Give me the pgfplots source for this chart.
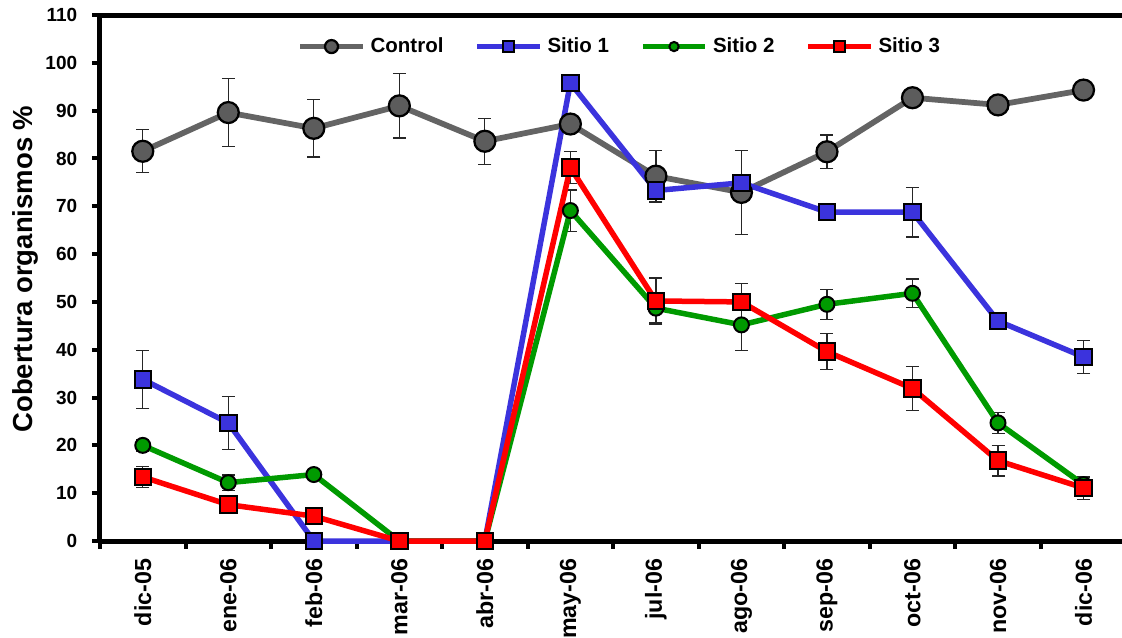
\documentclass[border=0pt]{standalone}
\usepackage{fontspec}
\setmainfont{Liberation Sans}
\usepackage{pgfplots}
\usepackage{pgfplotstable}
\pgfplotsset{compat=1.18}

\definecolor{ctrlline}{HTML}{646464}
\definecolor{ctrlfill}{HTML}{5C5C5C}
\definecolor{s1blue}{HTML}{3B33DD}
\definecolor{s2green}{HTML}{009A00}
\definecolor{s3red}{HTML}{FF0000}

% x: 0 dic-05 ... 11 dic-06 ; y: mean cover (%) ; e: error
\pgfplotstableread{
x y e
0 81.5 4.5
1 89.6 7.1
2 86.3 6.0
3 91.0 6.7
4 83.6 4.8
5 87.2 1.0
6 76.3 5.3
7 72.9 8.8
8 81.4 3.5
9 92.7 1.0
10 91.2 1.0
11 94.3 1.0
}\control

\pgfplotstableread{
x y e
0 33.8 6.1
1 24.7 5.5
2 0 0
3 0 0
4 0 0
5 95.8 1.0
6 73.3 2.4
7 74.9 1.0
8 68.8 1.0
9 68.8 5.2
10 46.0 1.6
11 38.5 3.4
}\sitioA

\pgfplotstableread{
x y e
0 20.0 1.2
1 12.2 1.6
2 13.9 1.0
3 0 0
4 0 0
5 69.1 4.3
6 48.7 3.0
7 45.2 5.4
8 49.5 3.1
9 51.8 3.0
10 24.7 2.2
11 11.8 1.5
}\sitioB

\pgfplotstableread{
x y e
0 13.4 2.2
1 7.6 1.7
2 5.2 1.0
3 0 0
4 0 0
5 78.1 3.3
6 50.2 4.8
7 50.0 3.8
8 39.6 3.8
9 31.9 4.6
10 16.8 3.2
11 11.1 2.4
}\sitioC

\pgfplotsset{
  errs/.style={forget plot, draw=none, mark=none,
    error bars/.cd, y dir=both, y explicit,
    error bar style={draw=black!85, line width=0.5pt},
    error mark=|,
    error mark options={draw=black!85, line width=0.5pt, mark size=2.6pt}},
}

\begin{document}
\begin{tikzpicture}
\begin{axis}[
  scale only axis,
  width=408.8pt, height=210.4pt,
  xmin=-0.5, xmax=11.45,
  ymin=0, ymax=110,
  clip=false,
  axis lines*=left,
  axis line style={-, line width=2pt},
  tick align=outside,
  tick style={black, line width=1.6pt},
  major tick length=3pt,
  ytick={0,10,...,110},
  xtick={-0.5,0.5,...,10.5},
  xticklabels={},
  xticklabel shift=3.6pt,
  yticklabel shift=2.6pt,
  extra x ticks={0,...,11},
  extra x tick labels={dic-05,ene-06,feb-06,mar-06,abr-06,may-06,jul-06,ago-06,sep-06,oct-06,nov-06,dic-06},
  extra x tick style={major tick length=0pt,
    tick label style={rotate=90, anchor=east, font=\bfseries\fontsize{9.3}{10}\selectfont}},
  /pgf/number format/assume math mode=true,
  yticklabel style={font=\bfseries\fontsize{7.6}{8}\selectfont},
  ylabel={Cobertura organismos \%},
  every axis y label/.style={at={(axis description cs:-0.0734,0.517)}, anchor=center, rotate=90,
    font=\bfseries\fontsize{11}{12}\selectfont},
  legend style={at={(axis description cs:0.51,0.94)}, anchor=center, draw=none, fill=none,
    legend columns=4, font=\bfseries\fontsize{8.2}{9}\selectfont,
    /tikz/every even column/.append style={column sep=10.4pt}},
  legend image code/.code={
    \draw[mark repeat=2, mark phase=2, every mark/.append style={scale=0.62}]
      plot coordinates {(0pt,0pt) (12.5pt,0pt) (25pt,0pt)};},
]
% error bars underneath everything
\addplot[errs] table[x=x, y=y, y error=e] {\control};
\addplot[errs] table[x=x, y=y, y error=e] {\sitioA};
\addplot[errs] table[x=x, y=y, y error=e] {\sitioB};
\addplot[errs] table[x=x, y=y, y error=e] {\sitioC};

\addplot[ctrlline, line width=2.3pt, mark=*, mark size=4.2pt,
  mark options={fill=ctrlfill, draw=black, line width=0.9pt}]
  table[x=x, y=y] {\control};
\addlegendentry{Control}
\addplot[s1blue, line width=2.2pt, mark=square*, mark size=3.3pt,
  mark options={fill=s1blue, draw=black, line width=0.8pt}]
  table[x=x, y=y] {\sitioA};
\addlegendentry{Sitio 1}
\addplot[s2green, line width=2.2pt, mark=*, mark size=3.0pt,
  mark options={fill=s2green, draw=black, line width=0.8pt}]
  table[x=x, y=y] {\sitioB};
\addlegendentry{Sitio 2}
\addplot[s3red, line width=2.2pt, mark=square*, mark size=3.3pt,
  mark options={fill=s3red, draw=black, line width=0.8pt}]
  table[x=x, y=y] {\sitioC};
\addlegendentry{Sitio 3}

% top frame line
\draw[line width=2pt] (rel axis cs:0,1) -- (rel axis cs:1.05,1);
\end{axis}
\pgfresetboundingbox
\path[use as bounding box] (-40pt,-38.4pt) rectangle (408.8pt,216.4pt);
\end{tikzpicture}
\end{document}
